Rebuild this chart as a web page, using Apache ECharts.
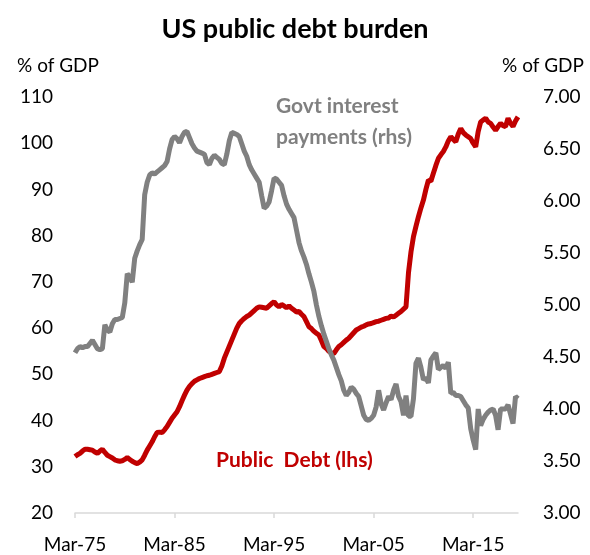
<!DOCTYPE html>
<html>
<head>
<meta charset="utf-8">
<script src="https://cdn.jsdelivr.net/npm/echarts@6/dist/echarts.min.js"></script>
<style>
html, body { margin: 0; padding: 0; background: #fff; }
#debtchart { width: 590px; height: 555px; }
</style>
</head>
<body>
<div id="debtchart"></div>
<script>
// quarterly, Mar-75 .. Sep-19
var months = ['Mar', 'Jun', 'Sep', 'Dec'];
var firstYear = 1975;

// public debt, % of GDP (lhs)
var publicDebt = [
  32.2, 32.6, 32.9, 33.4, 33.8, 33.8, 33.7, 33.6, 33.2, 32.9,
  33.4, 33.8, 33.1, 32.5, 32.2, 31.9, 31.5, 31.3, 31.2, 31.3,
  31.6, 32.0, 31.6, 31.2, 30.9, 30.7, 31.0, 31.5, 32.5, 33.6,
  34.5, 35.4, 36.5, 37.4, 37.5, 37.4, 38.0, 38.7, 39.6, 40.5,
  41.2, 41.9, 43.0, 44.3, 45.5, 46.6, 47.4, 48.0, 48.5, 48.8,
  49.1, 49.3, 49.5, 49.7, 49.8, 50.0, 50.2, 50.4, 50.6, 51.8,
  53.5, 54.8, 56.1, 57.4, 58.7, 60.0, 61.0, 61.6, 62.1, 62.5,
  62.8, 63.3, 63.8, 64.3, 64.6, 64.5, 64.4, 64.3, 64.8, 65.3,
  65.7, 65.0, 64.6, 65.1, 64.8, 64.4, 64.8, 64.3, 63.9, 63.5,
  63.6, 63.0, 62.5, 61.4, 60.3, 59.9, 59.3, 58.9, 58.5, 57.3,
  56.0, 55.6, 55.0, 54.6, 54.5, 55.3, 56.0, 56.4, 56.9, 57.4,
  57.8, 58.4, 59.0, 59.6, 59.9, 60.2, 60.4, 60.7, 60.9, 61.0,
  61.2, 61.4, 61.5, 61.7, 61.9, 62.1, 62.2, 62.6, 62.4, 62.8,
  63.2, 63.6, 64.1, 64.6, 72.0, 76.5, 79.8, 82.0, 84.1, 86.0,
  87.7, 90.0, 92.0, 91.8, 93.5, 95.2, 96.7, 97.5, 98.2, 99.2,
  100.5, 101.4, 100.8, 100.3, 102.0, 103.2, 102.3, 101.8, 101.4, 101.0,
  100.0, 99.2, 102.5, 104.6, 105.0, 105.4, 104.6, 104.3, 103.5, 102.8,
  103.6, 104.3, 103.8, 103.6, 105.4, 104.3, 103.6, 104.8, 105.7
];

// govt interest payments, % of GDP (rhs)
var interestPayments = [
  4.54, 4.58, 4.60, 4.59, 4.60, 4.60, 4.63, 4.66, 4.62, 4.58,
  4.57, 4.58, 4.81, 4.76, 4.74, 4.82, 4.86, 4.86, 4.87, 4.88,
  5.02, 5.30, 5.27, 5.22, 5.45, 5.52, 5.58, 5.63, 6.06, 6.18,
  6.25, 6.27, 6.26, 6.28, 6.30, 6.32, 6.34, 6.38, 6.50, 6.59,
  6.62, 6.60, 6.56, 6.62, 6.66, 6.67, 6.61, 6.55, 6.51, 6.48,
  6.47, 6.46, 6.45, 6.37, 6.35, 6.41, 6.44, 6.42, 6.40, 6.36,
  6.35, 6.45, 6.58, 6.66, 6.65, 6.64, 6.62, 6.55, 6.48, 6.43,
  6.35, 6.30, 6.26, 6.22, 6.18, 6.05, 5.93, 5.95, 5.99, 6.10,
  6.22, 6.21, 6.18, 6.15, 6.05, 5.97, 5.92, 5.88, 5.84, 5.72,
  5.60, 5.52, 5.46, 5.39, 5.30, 5.22, 5.13, 5.00, 4.89, 4.80,
  4.72, 4.65, 4.58, 4.52, 4.47, 4.40, 4.33, 4.27, 4.18, 4.13,
  4.16, 4.21, 4.19, 4.15, 4.12, 4.03, 3.94, 3.90, 3.89, 3.91,
  3.94, 4.02, 4.18, 4.05, 3.99, 4.06, 4.12, 4.09, 4.18, 4.24,
  4.12, 4.07, 3.94, 4.13, 3.93, 3.93, 4.10, 4.44, 4.49, 4.40,
  4.28, 4.30, 4.25, 4.47, 4.51, 4.54, 4.38, 4.40, 4.42, 4.39,
  4.45, 4.15, 4.16, 4.13, 4.13, 4.12, 4.08, 4.04, 4.01, 3.81,
  3.70, 3.61, 4.00, 3.84, 3.90, 3.94, 3.97, 3.99, 4.00, 3.94,
  3.80, 4.00, 4.00, 4.00, 4.04, 3.95, 3.86, 4.12, 4.10
];

var quarters = [];
for (var i = 0; i < publicDebt.length; i++) {
  var yr = (firstYear + Math.floor(i / 4)) % 100;
  quarters.push(months[i % 4] + '-' + (yr < 10 ? '0' + yr : '' + yr));
}

var fontName = 'Lato';
var chart = echarts.init(document.getElementById('debtchart'));

var option = {
  animation: false,
  backgroundColor: '#ffffff',
  textStyle: { fontFamily: fontName },
  title: {
    text: 'US public debt burden',
    left: 'center',
    top: 11,
    textStyle: { fontFamily: fontName, fontSize: 27, fontWeight: 'bold', color: '#000000' }
  },
  grid: { left: 75, right: 72, top: 97, bottom: 42 },
  xAxis: {
    type: 'category',
    data: quarters,
    boundaryGap: false,
    axisLine: { lineStyle: { color: '#d9d9d9', width: 1.5 } },
    axisTick: {
      interval: function (idx) { return idx % 40 === 0; },
      length: 5,
      lineStyle: { color: '#d9d9d9', width: 1.5 }
    },
    axisLabel: {
      interval: function (idx) { return idx % 40 === 0; },
      margin: 22,
      fontSize: 19,
      color: '#000000',
      fontFamily: fontName
    }
  },
  yAxis: [
    {
      type: 'value',
      min: 20, max: 110, interval: 10,
      name: '% of GDP',
      nameLocation: 'end',
      nameGap: 22,
      nameTextStyle: { fontSize: 19, color: '#000000', fontFamily: fontName, padding: [0, 34, 0, 0] },
      axisLine: { show: false },
      axisTick: { show: false },
      splitLine: { show: false },
      axisLabel: { margin: 22, fontSize: 19, color: '#000000', fontFamily: fontName }
    },
    {
      type: 'value',
      min: 3, max: 7, interval: 0.5,
      name: '% of GDP',
      nameLocation: 'end',
      nameGap: 22,
      nameTextStyle: { fontSize: 19, color: '#000000', fontFamily: fontName, padding: [0, 0, 0, 50] },
      axisLine: { show: false },
      axisTick: { show: false },
      splitLine: { show: false },
      axisLabel: {
        margin: 25, fontSize: 19, color: '#000000', fontFamily: fontName,
        formatter: function (v) { return v.toFixed(2); }
      }
    }
  ],
  series: [
    {
      name: 'Public Debt (lhs)',
      type: 'line',
      yAxisIndex: 0,
      data: publicDebt,
      symbol: 'none',
      lineStyle: { color: '#c00000', width: 5 }
    },
    {
      name: 'Govt interest payments (rhs)',
      type: 'line',
      yAxisIndex: 1,
      data: interestPayments,
      symbol: 'none',
      lineStyle: { color: '#808080', width: 5 }
    }
  ],
  graphic: [
    {
      type: 'text',
      left: 276,
      top: 91,
      style: {
        text: 'Govt interest\npayments (rhs)',
        fill: '#808080',
        font: 'bold 21px ' + fontName,
        lineHeight: 31
      }
    },
    {
      type: 'text',
      left: 216,
      top: 450,
      style: {
        text: 'Public  Debt (lhs)',
        fill: '#c00000',
        font: 'bold 21px ' + fontName
      }
    }
  ]
};

chart.setOption(option);
</script>
</body>
</html>
